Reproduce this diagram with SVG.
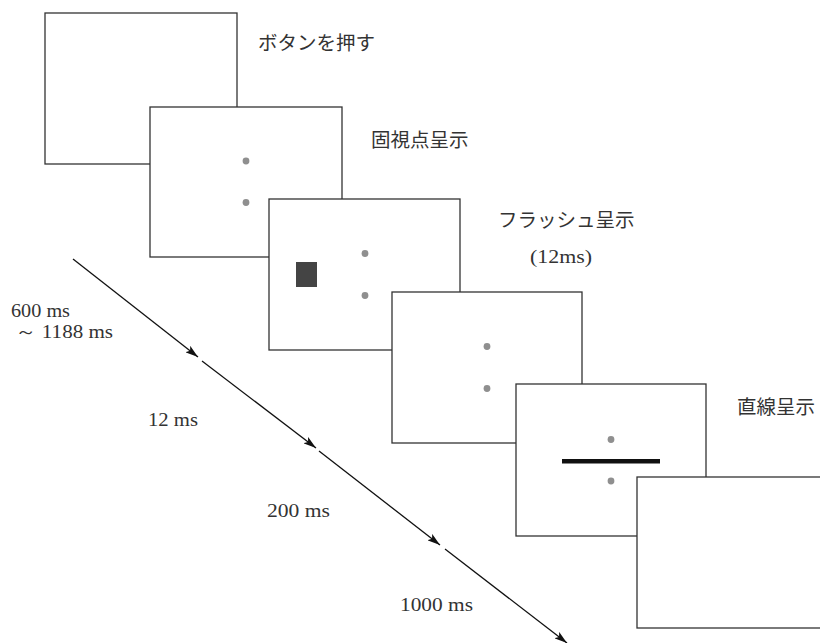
<svg xmlns="http://www.w3.org/2000/svg" width="820" height="643" viewBox="0 0 820 643">
<defs>
<style>
.scr{fill:#fff;stroke:#333;stroke-width:1.3}
.dot{fill:#8f8f8f}
.jp{font-family:"Noto Sans CJK JP","Noto Sans",sans-serif;font-size:19.5px;fill:#333}
.num{font-family:"Liberation Serif",serif;font-size:18.5px;fill:#333}
.arr{stroke:#111;stroke-width:1.3;fill:none;marker-end:url(#ah)}
</style>
<marker id="ah" viewBox="0 0 13 8" refX="13" refY="4" markerWidth="13" markerHeight="8" markerUnits="userSpaceOnUse" orient="auto">
<path d="M0,0 L13,4 L0,8 L3,4 Z" fill="#111"/>
</marker>
</defs>
<g id="screen1">
<rect class="scr" x="45" y="13" width="192" height="151"/>
</g>
<g id="screen2">
<rect class="scr" x="150" y="107" width="192" height="150"/>
<circle class="dot" cx="246" cy="161" r="3.4"/>
<circle class="dot" cx="246" cy="202.5" r="3.4"/>
</g>
<g id="screen3">
<rect class="scr" x="269" y="199" width="191" height="151"/>
<rect x="296" y="262" width="21" height="25" fill="#444"/>
<circle class="dot" cx="365" cy="253.5" r="3.4"/>
<circle class="dot" cx="365" cy="295.5" r="3.4"/>
</g>
<g id="screen4">
<rect class="scr" x="392" y="292" width="190" height="151"/>
<circle class="dot" cx="487" cy="346.5" r="3.4"/>
<circle class="dot" cx="487" cy="388.5" r="3.4"/>
</g>
<g id="screen5">
<rect class="scr" x="516" y="384" width="190" height="152"/>
<circle class="dot" cx="611" cy="439.5" r="3.4"/>
<circle class="dot" cx="611" cy="481" r="3.4"/>
<rect x="562" y="459" width="98" height="4.5" fill="#111"/>
</g>
<g id="screen6">
<rect class="scr" x="637" y="477" width="200" height="151"/>
</g>
<g id="labels">
<text class="jp" x="258" y="50">ボタンを押す</text>
<text class="jp" x="371" y="147">固視点呈示</text>
<text class="jp" x="498" y="227">フラッシュ呈示</text>
<text class="num" x="530" y="263" textLength="62" lengthAdjust="spacingAndGlyphs">(12ms)</text>
<text class="jp" x="737" y="414">直線呈示</text>
<text class="num" x="11" y="317" textLength="59" lengthAdjust="spacingAndGlyphs">600 ms</text>
<text class="num" x="15" y="338" textLength="98" lengthAdjust="spacingAndGlyphs">～ 1188 ms</text>
<text class="num" x="148" y="426" textLength="50" lengthAdjust="spacingAndGlyphs">12 ms</text>
<text class="num" x="267" y="517" textLength="63" lengthAdjust="spacingAndGlyphs">200 ms</text>
<text class="num" x="400" y="611" textLength="73" lengthAdjust="spacingAndGlyphs">1000 ms</text>
</g>
<g id="connectors">
<line class="arr" x1="73" y1="259" x2="198" y2="357"/>
<line class="arr" x1="202" y1="361" x2="316" y2="448"/>
<line class="arr" x1="319" y1="451" x2="440" y2="545"/>
<line class="arr" x1="445" y1="549" x2="567" y2="643"/>
</g>
</svg>
